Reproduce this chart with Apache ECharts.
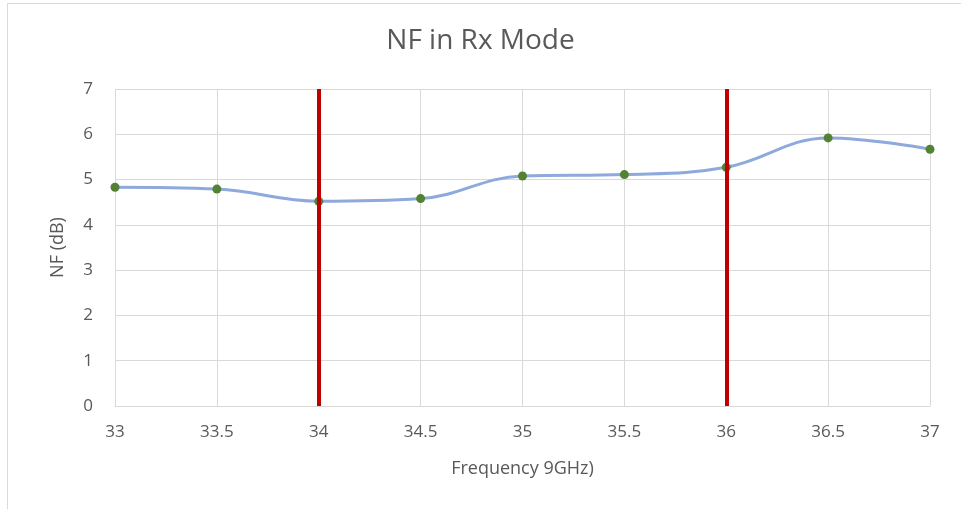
<!DOCTYPE html>
<html>
<head>
<meta charset="UTF-8">
<title>NF in Rx Mode</title>
<script src="https://cdn.jsdelivr.net/npm/echarts@6/dist/echarts.min.js"></script>
<style>
  html, body { margin: 0; padding: 0; background: #fff; }
  #chart { width: 961px; height: 509px; }
</style>
</head>
<body>
<div id="chart"></div>
<script>
// data
var freqs = [33, 33.5, 34, 34.5, 35, 35.5, 36, 36.5, 37];
var nfValues = [4.83, 4.79, 4.52, 4.58, 5.08, 5.11, 5.27, 5.92, 5.67];
var bandEdges = [34, 36];

var chart = echarts.init(document.getElementById('chart'));
var font = '"Open Sans", sans-serif';

var option = {
    backgroundColor: '#fff',
    animation: false,
    title: {
        text: 'NF in Rx Mode',
        left: 'center',
        top: 22,
        textStyle: { color: '#595959', fontSize: 28, fontWeight: 'normal', fontFamily: font }
    },
    graphic: [{
        type: 'rect',
        shape: { x: 7.5, y: 3.5, width: 960, height: 520 },
        style: { fill: 'none', stroke: '#D9D9D9', lineWidth: 1 },
        silent: true
    }],
    grid: { left: 115, right: 31, top: 89, bottom: 103 },
    xAxis: {
        type: 'value',
        min: 33,
        max: 37,
        interval: 0.5,
        name: 'Frequency 9GHz)',
        nameLocation: 'middle',
        nameGap: 54,
        nameTextStyle: { color: '#595959', fontSize: 18, fontFamily: font },
        axisLine: { lineStyle: { color: '#D9D9D9' } },
        axisTick: { show: false },
        axisLabel: { color: '#595959', fontSize: 17, fontFamily: font, margin: 18 },
        splitLine: { show: true, lineStyle: { color: '#D9D9D9' } }
    },
    yAxis: {
        type: 'value',
        min: 0,
        max: 7,
        interval: 1,
        name: 'NF (dB)',
        nameLocation: 'middle',
        nameGap: 48,
        nameTextStyle: { color: '#595959', fontSize: 18, fontFamily: font },
        axisLine: { show: false },
        axisTick: { show: false },
        axisLabel: { color: '#595959', fontSize: 17, fontFamily: font, margin: 22 },
        splitLine: { lineStyle: { color: '#D9D9D9' } }
    },
    series: [{
        type: 'line',
        data: freqs.map(function (f, i) { return [f, nfValues[i]]; }),
        smooth: 0.4,
        symbol: 'circle',
        symbolSize: 9,
        lineStyle: { color: '#8EA9DB', width: 3 },
        itemStyle: { color: '#548235' },
        z: 3,
        markLine: {
            silent: true,
            symbol: 'none',
            label: { show: false },
            lineStyle: { color: '#C00000', width: 4, type: 'solid' },
            data: bandEdges.map(function (x) { return { xAxis: x }; }),
            z: 5
        }
    }]
};

chart.setOption(option);
</script>
</body>
</html>
